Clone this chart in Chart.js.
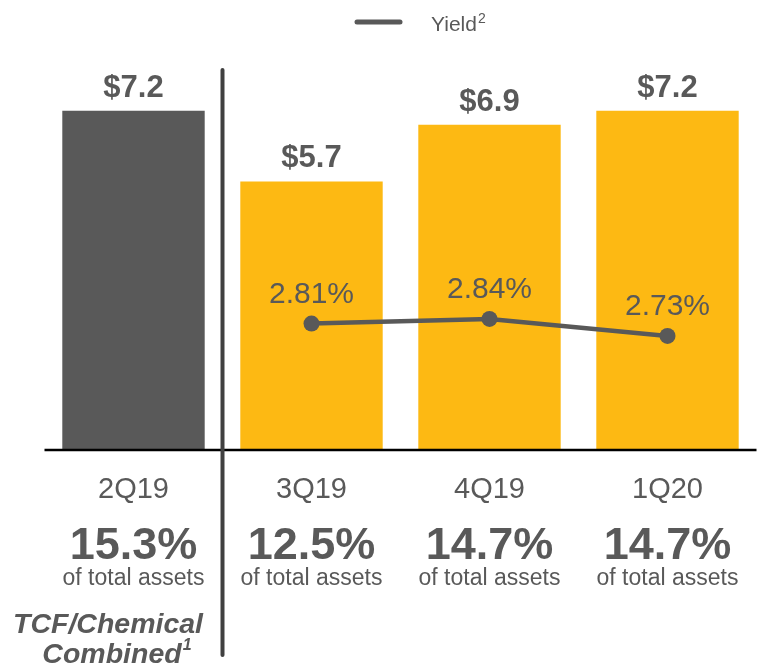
<!DOCTYPE html>
<html><head><meta charset="utf-8">
<script src="https://cdn.jsdelivr.net/npm/chart.js@4/dist/chart.umd.min.js"></script>
<style>html,body{margin:0;padding:0;background:#fff}#wrap{width:761px;height:669px}</style>
</head><body><div id="wrap"><canvas id="c" width="761" height="669"></canvas></div>
<script>
const categories = ["2Q19", "3Q19", "4Q19", "1Q20"];
const balances = [7.2, 5.7, 6.9, 7.2];
const balanceLabels = ["$7.2", "$5.7", "$6.9", "$7.2"];
const yieldValues = [null, 2.81, 2.84, 2.73];
const yieldLabels = [null, "2.81%", "2.84%", "2.73%"];
const pctAssets = ["15.3%", "12.5%", "14.7%", "14.7%"];
const barColors = ["#595959", "#FDB913", "#FDB913", "#FDB913"];

const F = "Liberation Sans, Arial, sans-serif";
const textPlugin = {
  id: "texts",
  afterDatasetsDraw(chart) {
    const ctx = chart.ctx, x = chart.scales.x, y = chart.scales.y, y2 = chart.scales.y2;
    const ca = chart.chartArea;
    ctx.save();
    // baseline
    ctx.strokeStyle = "#000"; ctx.lineWidth = 2.5;
    ctx.beginPath(); ctx.moveTo(ca.left, y.getPixelForValue(0)); ctx.lineTo(ca.right, y.getPixelForValue(0)); ctx.stroke();
    // separator
    const sx = (x.getPixelForValue(0) + x.getPixelForValue(1)) / 2;
    ctx.strokeStyle = "#404040"; ctx.lineWidth = 4; ctx.lineCap = "round";
    ctx.beginPath(); ctx.moveTo(sx, 70); ctx.lineTo(sx, 655); ctx.stroke();
    ctx.textAlign = "center";
    categories.forEach((c, i) => {
      const px = x.getPixelForValue(i);
      ctx.fillStyle = "#595959";
      ctx.font = "bold 31px " + F; ctx.textBaseline = "alphabetic";
      ctx.fillText(balanceLabels[i], px, y.getPixelForValue(balances[i]) - 14);
      ctx.font = "29px " + F;
      ctx.fillText(c, px, 498);
      ctx.font = "bold 45px " + F;
      ctx.fillText(pctAssets[i], px, 559);
      ctx.font = "23px " + F;
      ctx.fillText("of total assets", px, 585);
      if (yieldValues[i] != null) {
        ctx.font = "30px " + F;
        ctx.fillText(yieldLabels[i], px, y2.getPixelForValue(yieldValues[i]) - 21);
      }
    });
    // footnote label
    ctx.font = "italic bold 28.5px " + F; ctx.fillStyle = "#595959";
    ctx.fillText("TCF/Chemical", 108, 633);
    ctx.fillText("Combined", 112, 663);
    const w = ctx.measureText("Combined").width;
    ctx.font = "italic bold 16px " + F; ctx.textAlign = "left";
    ctx.fillText("1", 112 + w / 2 + 1, 650);
    // legend
    ctx.strokeStyle = "#595959"; ctx.lineWidth = 5; ctx.lineCap = "round";
    ctx.beginPath(); ctx.moveTo(357, 22); ctx.lineTo(400, 22); ctx.stroke();
    ctx.font = "21px " + F; ctx.fillStyle = "#595959"; ctx.textAlign = "left";
    ctx.fillText("Yield", 431, 31);
    const lw = ctx.measureText("Yield").width;
    ctx.font = "14px " + F;
    ctx.fillText("2", 431 + lw + 1, 23);
    ctx.restore();
  }
};

new Chart(document.getElementById("c"), {
  data: {
    labels: categories,
    datasets: [
      { type: "line", data: yieldValues, yAxisID: "y2", borderColor: "#595959", backgroundColor: "#595959",
        borderWidth: 4.5, pointRadius: 8, pointHoverRadius: 8, pointBorderWidth: 0, spanGaps: false, order: 0 },
      { type: "bar", data: balances, yAxisID: "y", backgroundColor: barColors,
        categoryPercentage: 0.8, barPercentage: 1.0, order: 1 }
    ]
  },
  options: {
    responsive: false, animation: false,
    layout: { autoPadding: false, padding: { left: 44.5, right: 4.5, top: 73, bottom: 219 } },
    plugins: { legend: { display: false }, tooltip: { enabled: false } },
    scales: {
      x: { display: false },
      y: { display: false, min: 0, max: 8 },
      y2: { display: false, min: 1.9925, max: 4.4305 }
    }
  },
  plugins: [textPlugin]
});
</script></body></html>
